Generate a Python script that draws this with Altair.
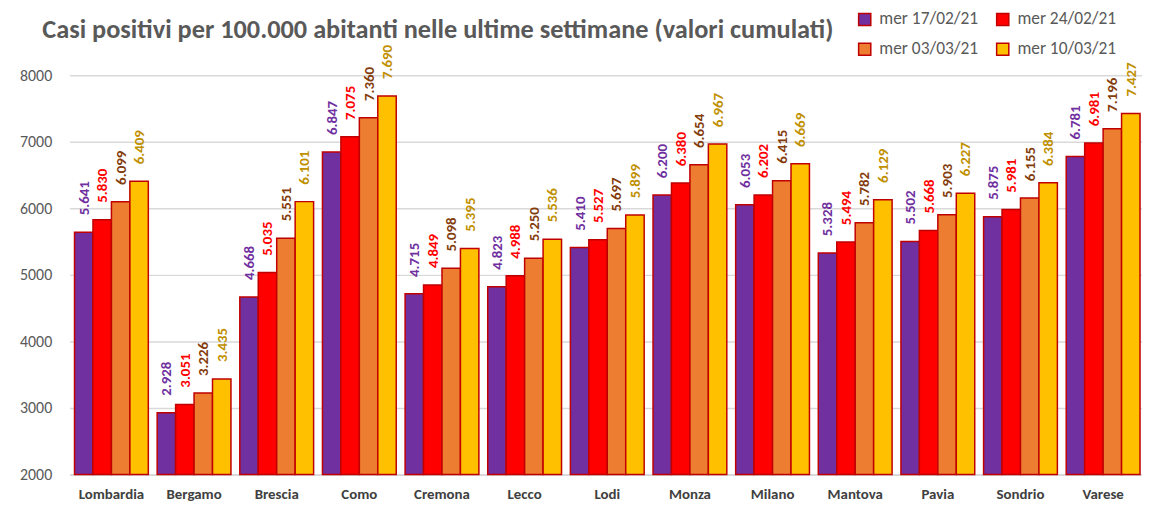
import altair as alt
import pandas as pd

categories = ["Lombardia", "Bergamo", "Brescia", "Como", "Cremona", "Lecco", "Lodi",
              "Monza", "Milano", "Mantova", "Pavia", "Sondrio", "Varese"]
series = ["mer 17/02/21", "mer 24/02/21", "mer 03/03/21", "mer 10/03/21"]
v_1702 = [5641, 2928, 4668, 6847, 4715, 4823, 5410, 6200, 6053, 5328, 5502, 5875, 6781]
v_2402 = [5830, 3051, 5035, 7075, 4849, 4988, 5527, 6380, 6202, 5494, 5668, 5981, 6981]
v_0303 = [6099, 3226, 5551, 7360, 5098, 5250, 5697, 6654, 6415, 5782, 5903, 6155, 7196]
v_1003 = [6409, 3435, 6101, 7690, 5395, 5536, 5899, 6967, 6669, 6129, 6227, 6384, 7427]
bar_colors = ["#7030A0", "#FF0000", "#ED7D31", "#FFC000"]
label_colors = ["#7030A0", "#FF0000", "#843C0C", "#BF9000"]

rows = []
for s_i, (s, vals) in enumerate(zip(series, [v_1702, v_2402, v_0303, v_1003])):
    for c, v in zip(categories, vals):
        rows.append({"cat": c, "series": s, "value": v,
                     "label": f"{v // 1000}.{v % 1000:03d}",
                     "lcolor": label_colors[s_i]})
df = pd.DataFrame(rows)

# legend is laid out column-major: order so that rows read 17/02, 24/02 / 03/03, 10/03
legend_order = [series[0], series[2], series[1], series[3]]
legend_colors = [bar_colors[0], bar_colors[2], bar_colors[1], bar_colors[3]]

FONT = "Carlito, Lato, sans-serif"

x = alt.X("cat:N", sort=categories, title=None,
          scale=alt.Scale(paddingInner=0.107, paddingOuter=0.06, range=[0, 1083]),
          axis=alt.Axis(labelAngle=0, labelFontSize=15, labelFontWeight="bold",
                        labelColor="#404040", ticks=False, domainColor="#D9D9D9",
                        domainWidth=2, labelPadding=12, labelFont=FONT))
xo = alt.XOffset("series:N", sort=series, scale=alt.Scale(paddingInner=0, paddingOuter=0))
y = alt.Y("value:Q", title=None,
          scale=alt.Scale(domain=[2000, 8000], nice=False, zero=False),
          axis=alt.Axis(values=[2000, 3000, 4000, 5000, 6000, 7000, 8000], format="d",
                        labelFontSize=16, labelColor="#595959", domain=False,
                        ticks=False, labelPadding=18, gridColor="#D9D9D9",
                        gridWidth=1.5, labelFont=FONT))

bars = alt.Chart(df).mark_bar(stroke="#C00000", strokeWidth=1.5).encode(
    x=x, xOffset=xo, y=y, y2=alt.datum(2000),
    color=alt.Color("series:N",
                    scale=alt.Scale(domain=legend_order, range=legend_colors),
                    legend=alt.Legend(title=None, orient="none", legendX=792, legendY=-65,
                                      columns=2, symbolType="square", symbolSize=150,
                                      symbolStrokeColor="#C00000", symbolStrokeWidth=1.5,
                                      labelFontSize=17.5, labelColor="#595959",
                                      labelFont=FONT, labelOffset=6,
                                      rowPadding=11, columnPadding=15,
                                      symbolOpacity=1)),
)

texts = alt.Chart(df).mark_text(angle=270, align="left", baseline="middle", dx=17,
                                fontSize=15, fontWeight="bold", font=FONT).encode(
    x=x, xOffset=xo, y=y,
    text="label:N",
    color=alt.Color("lcolor:N", scale=None),
)

chart = alt.layer(bars, texts).properties(
    width=1078, height=402,
    autosize=alt.AutoSizeParams(type="none"),
    padding={"left": 62, "top": 66, "right": 2, "bottom": 30},
    title=alt.TitleParams("Casi positivi  per 100.000 abitanti  nelle ultime settimane (valori cumulati)",
                          anchor="start", dx=23, offset=-33, fontSize=26.5,
                          fontWeight="bold", color="#595959", font=FONT),
).configure_view(stroke=None)

chart.save("out.html", embed_options={"renderer": "svg", "actions": False})
